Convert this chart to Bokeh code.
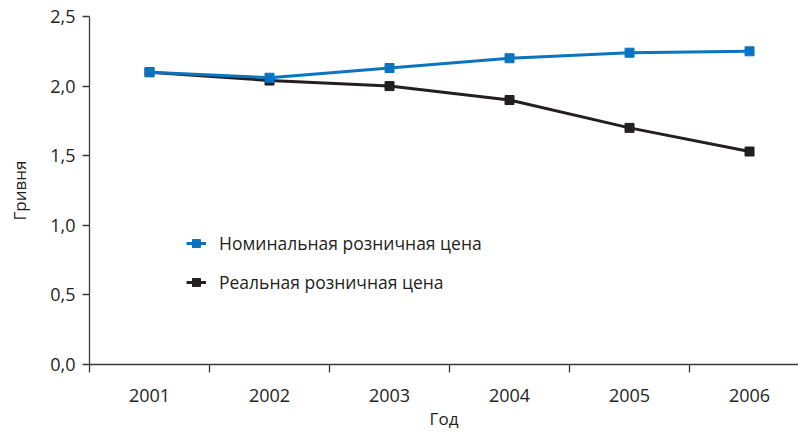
from bokeh.plotting import figure
from bokeh.models import Range1d, FixedTicker, Legend, LegendItem
from bokeh.embed import file_html
from bokeh.resources import INLINE

years = ["2001", "2002", "2003", "2004", "2005", "2006"]
nominal = [2.10, 2.06, 2.13, 2.20, 2.24, 2.25]
real = [2.10, 2.04, 2.00, 1.90, 1.70, 1.53]
y_ticks = [0.0, 0.5, 1.0, 1.5, 2.0, 2.5]
y_tick_labels = ["0,0", "0,5", "1,0", "1,5", "2,0", "2,5"]
series_names = ["Номинальная розничная цена", "Реальная розничная цена"]
y_title = "Гривня"
x_title = "Год"

FONT = "Open Sans"
TXT = "#231f20"
AX = "#3a3a3a"
BLUE = "#0a74c0"
BLACK = "#231f20"

xs = list(range(len(years)))

p = figure(width=798, height=432, output_backend="svg", toolbar_location=None,
           x_range=Range1d(-0.5, 5.408), y_range=Range1d(0, 2.5),
           min_border_left=89, min_border_right=0, min_border_top=16, min_border_bottom=68)
p.outline_line_color = None
p.xgrid.visible = False
p.ygrid.visible = False
p.background_fill_color = "white"
p.border_fill_color = "white"

# x axis
xa = p.xaxis[0]
xa.ticker = FixedTicker(ticks=xs, minor_ticks=[i - 0.5 for i in range(len(years) + 1)])
xa.major_label_overrides = {i: y for i, y in zip(xs, years)}
xa.major_tick_out = 0
xa.major_tick_in = 0
xa.minor_tick_out = 8
xa.minor_tick_in = 0
xa.minor_tick_line_color = AX
xa.axis_line_color = AX
xa.axis_line_width = 1.3
xa.minor_tick_line_width = 1.3
xa.major_label_standoff = 16
xa.major_label_text_font = FONT
xa.major_label_text_font_size = "18px"
xa.major_label_text_color = TXT
xa.axis_label = x_title
xa.axis_label_text_font = FONT
xa.axis_label_text_font_size = "17px"
xa.axis_label_text_font_style = "normal"
xa.axis_label_text_color = TXT
xa.axis_label_standoff = 2

# y axis
ya = p.yaxis[0]
ya.ticker = FixedTicker(ticks=y_ticks, minor_ticks=[])
ya.major_label_overrides = {t: l for t, l in zip(y_ticks, y_tick_labels)}
ya.major_tick_out = 7
ya.major_tick_in = 0
ya.major_tick_line_color = AX
ya.major_tick_line_width = 1.3
ya.axis_line_color = AX
ya.axis_line_width = 1.3
ya.major_label_standoff = 7
ya.major_label_text_font = FONT
ya.major_label_text_font_size = "18px"
ya.major_label_text_color = TXT
ya.axis_label = y_title
ya.axis_label_text_font = FONT
ya.axis_label_text_font_size = "17px"
ya.axis_label_text_font_style = "normal"
ya.axis_label_text_color = TXT
ya.axis_label_standoff = 16

# series (black first, blue on top)
l_real = p.line(xs, real, line_color=BLACK, line_width=3)
s_real = p.scatter(xs, real, marker="square", size=9, fill_color=BLACK, line_color=BLACK)
l_nom = p.line(xs, nominal, line_color=BLUE, line_width=3)
s_nom = p.scatter(xs, nominal, marker="square", size=9, fill_color=BLUE, line_color=BLUE)

legend = Legend(items=[LegendItem(label=series_names[0], renderers=[l_nom, s_nom]),
                       LegendItem(label=series_names[1], renderers=[l_real, s_real])],
                location=(97, 70), orientation="vertical")
legend.background_fill_alpha = 0
legend.border_line_color = None
legend.label_text_font = FONT
legend.label_text_font_size = "17.5px"
legend.label_text_color = TXT
legend.glyph_width = 20
legend.glyph_height = 20
legend.label_height = 20
legend.spacing = 15
legend.label_standoff = 13
legend.padding = 0
legend.margin = 0
p.add_layout(legend, "center")

open("out.html", "w").write(file_html(p, INLINE))
